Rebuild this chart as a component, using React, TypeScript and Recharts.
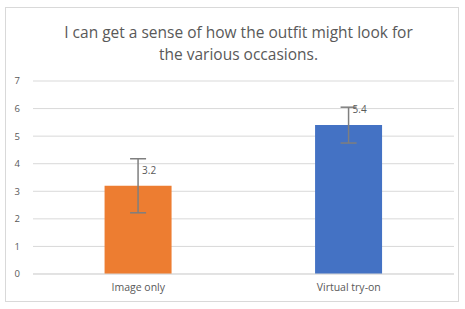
import React from 'react';
import { BarChart, Bar, XAxis, YAxis, CartesianGrid, ErrorBar, LabelList } from 'recharts';

const categories = ['Image only', 'Virtual try-on'];
const means = [3.2, 5.4];
const errors = [0.98, 0.65];
const barColors = ['#ED7D31', '#4472C4'];
const yTicks = [0, 1, 2, 3, 4, 5, 6, 7];

const data = categories.map((name, i) => ({ name, value: means[i], err: errors[i], fill: barColors[i] }));

const FONT = '"Open Sans", "Liberation Sans", sans-serif';

const ValueLabel = (props: any) => {
  const { x, y, width, value } = props;
  return (
    <text x={x + width / 2 + 4} y={y - 12} fill="#595959" fontSize={10} fontFamily={FONT}>
      {value}
    </text>
  );
};

export default function App() {
  return (
    <div style={{ position: 'absolute', left: 0, top: 0, width: 465, height: 309, background: '#fff' }}>
      <div
        style={{
          position: 'absolute', left: 5, top: 7, width: 454, height: 295,
          border: '1px solid #d9d9d9', boxSizing: 'border-box',
        }}
      />
      <div
        style={{
          position: 'absolute', left: 6, top: 21, width: 465, textAlign: 'center',
          fontFamily: FONT, fontSize: 15.5, lineHeight: '22px', color: '#595959',
        }}
      >
        I can get a sense of how the outfit might look for
        <br />
        the various occasions.
      </div>
      <div style={{ position: 'absolute', left: 0, top: 0 }}>
        <BarChart
          width={465}
          height={309}
          data={data}
          margin={{ top: 81, right: 11, bottom: 0, left: 0 }}
          barCategoryGap="34%"
        >
          <CartesianGrid vertical={false} stroke="#d9d9d9" />
          <XAxis
            dataKey="name"
            axisLine={{ stroke: '#d9d9d9' }}
            tickLine={false}
            tickSize={0}
            tickMargin={10}
            tick={{ fill: '#595959', fontSize: 10.5, fontFamily: FONT }}
            height={35}
          />
          <YAxis
            domain={[0, 7]}
            ticks={yTicks}
            width={33}
            axisLine={false}
            tickLine={false}
            tickSize={0}
            tickMargin={13}
            tick={{ fill: '#595959', fontSize: 9.5, fontFamily: FONT }}
          />
          <Bar dataKey="value" isAnimationActive={false}>
            <ErrorBar dataKey="err" width={8} stroke="#7f7f7f" strokeWidth={1.5} isAnimationActive={false} />
            <LabelList dataKey="value" content={<ValueLabel />} />
          </Bar>
        </BarChart>
      </div>
    </div>
  );
}
